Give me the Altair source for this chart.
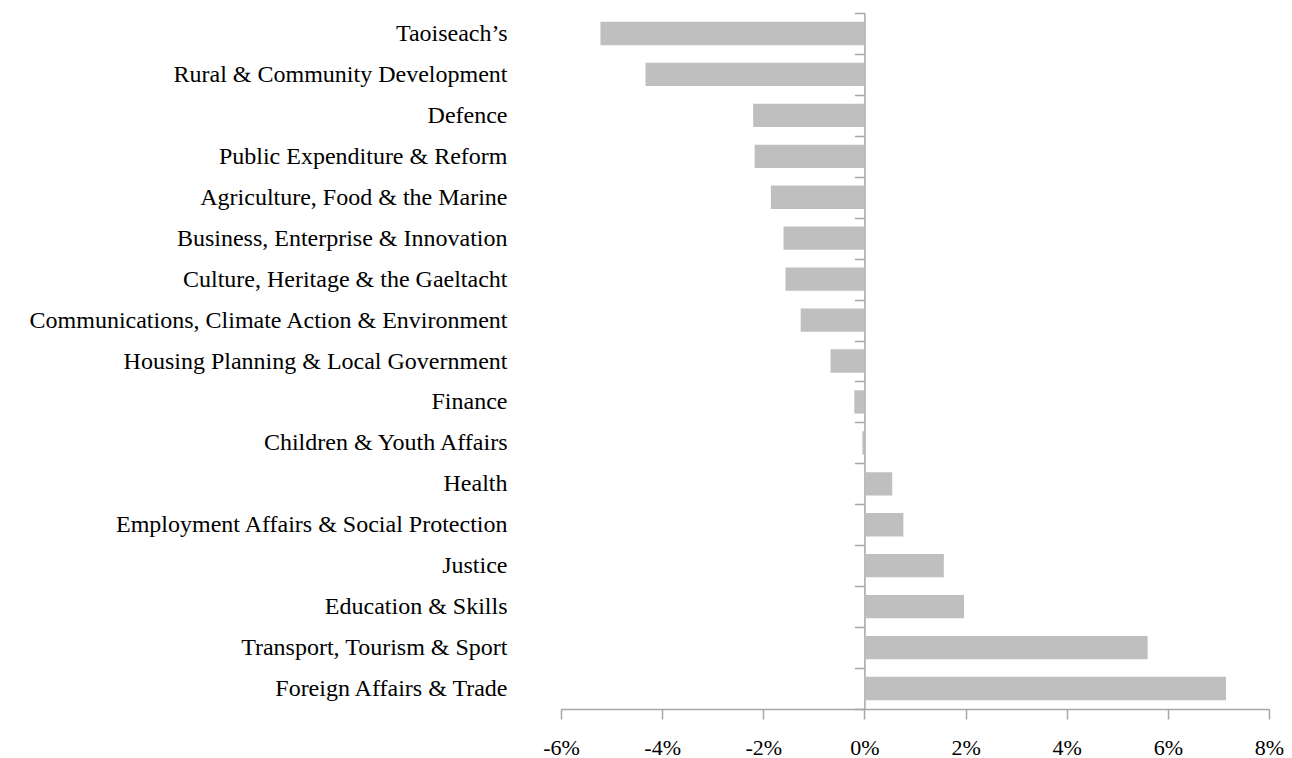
import altair as alt
import pandas as pd

departments = [
    "Taoiseach\u2019s",
    "Rural & Community Development",
    "Defence",
    "Public Expenditure & Reform",
    "Agriculture, Food & the Marine",
    "Business, Enterprise & Innovation",
    "Culture, Heritage & the Gaeltacht",
    "Communications, Climate Action & Environment",
    "Housing Planning & Local Government",
    "Finance",
    "Children & Youth Affairs",
    "Health",
    "Employment Affairs & Social Protection",
    "Justice",
    "Education & Skills",
    "Transport, Tourism & Sport",
    "Foreign Affairs & Trade",
]
change_pct = [-5.22, -4.33, -2.2, -2.17, -1.85, -1.6, -1.56, -1.26, -0.67,
              -0.2, -0.04, 0.55, 0.77, 1.57, 1.97, 5.6, 7.15]
x_ticks = [-6, -4, -2, 0, 2, 4, 6, 8]

df = pd.DataFrame({"dept": departments, "change": change_pct})

W = 708
H = 696
X_MIN, X_MAX = -6, 8
zero_px = W * (0 - X_MIN) / (X_MAX - X_MIN)

FONT = "Liberation Serif"
AXIS_GREY = "#a6a6a6"

chart = alt.Chart(df).mark_bar(
    color="#bfbfbf", height=alt.RelativeBandSize(0.57)
).encode(
    y=alt.Y(
        "dept:N",
        sort=departments,
        scale=alt.Scale(paddingInner=0, paddingOuter=0),
        axis=alt.Axis(
            orient="left",
            offset=-zero_px,
            tickBand="extent",
            domainColor=AXIS_GREY,
            tickColor=AXIS_GREY,
            tickSize=10,
            labelPadding=zero_px + 44,
            labelFont=FONT,
            labelFontSize=24,
            labelColor="black",
            labelLimit=0,
            title=None,
        ),
    ),
    x=alt.X(
        "change:Q",
        scale=alt.Scale(domain=[X_MIN, X_MAX], nice=False, zero=False),
        axis=alt.Axis(
            values=x_ticks,
            labelExpr="datum.value + '%'",
            labelFlush=False,
            grid=False,
            domainColor=AXIS_GREY,
            tickColor=AXIS_GREY,
            tickSize=10,
            labelPadding=18,
            labelFont=FONT,
            labelFontSize=22,
            labelColor="black",
            title=None,
        ),
    ),
).properties(
    width=W,
    height=H,
    autosize=alt.AutoSizeParams(type="none"),
    padding={"left": 553, "top": 5, "right": 15, "bottom": 50},
).configure_view(stroke=None).configure_axis(domainWidth=1.5, tickWidth=1.5)

chart.save("out.html", embed_options={"renderer": "svg", "actions": False})
